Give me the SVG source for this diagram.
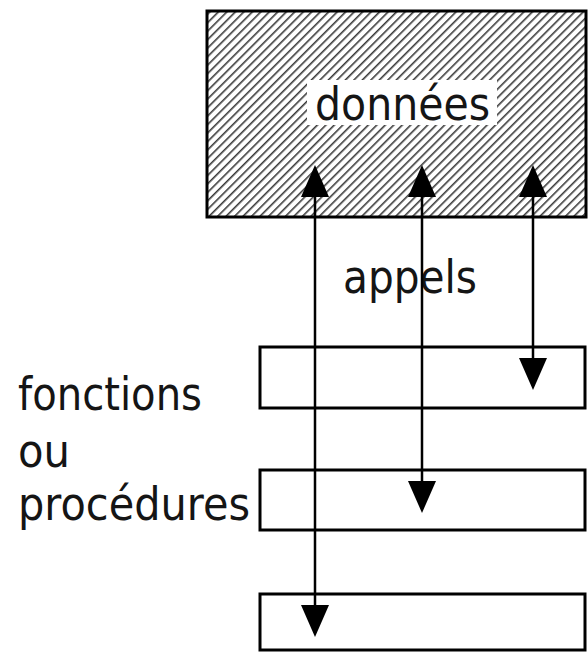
<svg xmlns="http://www.w3.org/2000/svg" width="588" height="652" viewBox="0 0 588 652">
  <style>
    .box { fill: #ffffff; stroke: #000000; stroke-width: 3; }
    .lbl { font-family: "DejaVu Sans", "Liberation Sans", sans-serif; font-size: 46px; fill: #151515; }
    .conn { stroke: #000000; stroke-width: 2.5; fill: none; marker-start: url(#head); marker-end: url(#head); }
  </style>
  <defs>
    <pattern id="hatch" patternUnits="userSpaceOnUse" width="6" height="6" patternTransform="rotate(45)">
      <rect width="6" height="6" fill="#ffffff"/>
      <line x1="0" y1="0" x2="0" y2="6" stroke="#3a3a3a" stroke-width="3.2"/>
    </pattern>
    <marker id="head" viewBox="0 0 32 28" refX="28" refY="14" markerWidth="32" markerHeight="28" markerUnits="userSpaceOnUse" orient="auto-start-reverse">
      <path d="M0,0 L32,14 L0,28 z" fill="#000000"/>
    </marker>
  </defs>
  <rect width="588" height="652" fill="#ffffff"/>

  <g id="donnees">
    <rect x="207" y="11" width="379" height="206" fill="url(#hatch)" stroke="#000000" stroke-width="3"/>
    <rect x="307" y="80" width="190" height="45" fill="#ffffff"/>
    <text class="lbl" x="315" y="120" textLength="175" lengthAdjust="spacingAndGlyphs">données</text>
  </g>

  <g id="fonction1"><rect class="box" x="260" y="347" width="325" height="61"/></g>
  <g id="fonction2"><rect class="box" x="260" y="470" width="325" height="60"/></g>
  <g id="fonction3"><rect class="box" x="260" y="594" width="325" height="56"/></g>

  <g id="labels">
    <text class="lbl" x="343" y="293" textLength="134" lengthAdjust="spacingAndGlyphs">appels</text>
    <text class="lbl" x="18" y="410" textLength="184" lengthAdjust="spacingAndGlyphs">fonctions</text>
    <text class="lbl" x="18" y="467" textLength="52" lengthAdjust="spacingAndGlyphs">ou</text>
    <text class="lbl" x="18" y="520" textLength="232" lengthAdjust="spacingAndGlyphs">procédures</text>
  </g>

  <g id="connectors">
    <line class="conn" x1="315" y1="169" x2="315" y2="633"/>
    <line class="conn" x1="422" y1="169" x2="422" y2="509"/>
    <line class="conn" x1="533" y1="169" x2="533" y2="386"/>
  </g>
</svg>
